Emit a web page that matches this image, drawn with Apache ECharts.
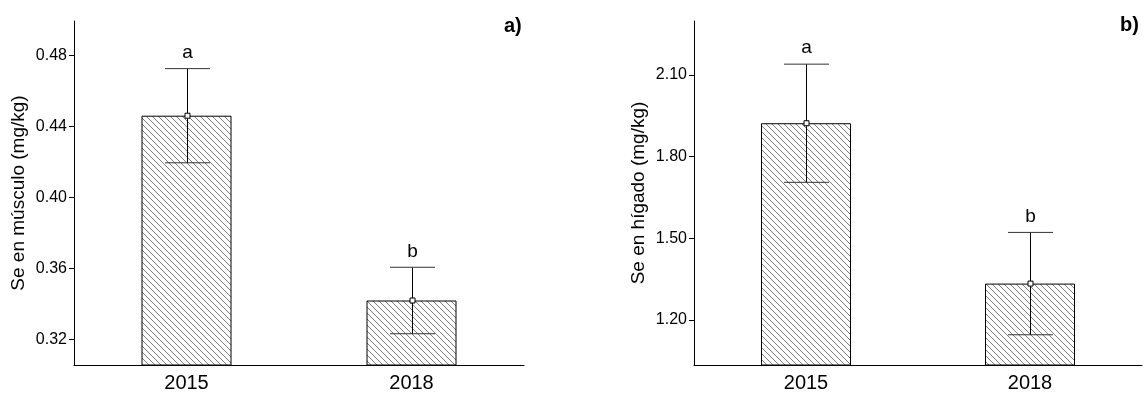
<!DOCTYPE html>
<html>
<head>
<meta charset="utf-8">
<script src="https://cdn.jsdelivr.net/npm/echarts@6/dist/echarts.min.js"></script>
<style>
html,body{margin:0;padding:0;background:#fff;}
#chart{width:1145px;height:394px;}
</style>
</head>
<body>
<div id="chart"></div>
<script>
// ---- data ----
const categories = ['2015', '2018'];
const muscleMean = [0.446, 0.342];
const muscleErr = [0.0265, 0.0187];
const liverMean = [1.923, 1.334];
const liverErr = [0.217, 0.188];
const groupLetters = ['a', 'b'];
const muscleTicks = [0.32, 0.36, 0.40, 0.44, 0.48];
const liverTicks = [1.20, 1.50, 1.80, 2.10];
const panelLabels = ['a)', 'b)'];
const yNames = ['Se en músculo (mg/kg)', 'Se en hígado (mg/kg)'];

// ---- hatch pattern ----
function makeHatch() {
  const n = 6;
  const c = document.createElement('canvas');
  c.width = n; c.height = n;
  const ctx = c.getContext('2d');
  ctx.fillStyle = '#ffffff';
  ctx.fillRect(0, 0, n, n);
  ctx.strokeStyle = '#7d7d7d';
  ctx.lineWidth = 1;
  ctx.beginPath();
  ctx.moveTo(0, 0); ctx.lineTo(n, n);
  ctx.moveTo(-1, n - 1); ctx.lineTo(1, n + 1);
  ctx.moveTo(n - 1, -1); ctx.lineTo(n + 1, 1);
  ctx.stroke();
  return c;
}
const hatch = makeHatch();

const FONT = 'Liberation Sans, Arial, sans-serif';

function errRender(params, api) {
  const idx = api.value(0);
  const mean = api.value(1);
  const err = api.value(2);
  const letter = groupLetters[params.dataIndex];
  const c = api.coord([idx, mean]);
  const t = api.coord([idx, mean + err]);
  const b = api.coord([idx, mean - err]);
  const x = Math.round(c[0]) + 0.5;
  const hw = 22.5;
  const st = { stroke: '#000', lineWidth: 1 };
  const capSt = { stroke: '#333', lineWidth: 1 };
  return {
    type: 'group',
    children: [
      { type: 'line', shape: { x1: x, y1: t[1], x2: x, y2: b[1] }, style: st },
      { type: 'line', shape: { x1: x - hw, y1: t[1], x2: x + hw, y2: t[1] }, style: capSt },
      { type: 'line', shape: { x1: x - hw, y1: b[1], x2: x + hw, y2: b[1] }, style: capSt },
      { type: 'rect', shape: { x: x - 2.5, y: c[1] - 2.5, width: 5, height: 5 }, style: { fill: '#fff', stroke: '#000', lineWidth: 1 } },
      { type: 'text', x: x, y: t[1] - 16, style: { text: letter, textAlign: 'center', textVerticalAlign: 'middle', font: '19px ' + FONT, fill: '#000' } }
    ]
  };
}

function yAxis(gridIndex, min, max, ticks, name) {
  return {
    type: 'value', gridIndex: gridIndex, min: min, max: max,
    name: name, nameLocation: 'middle', nameGap: 46, nameRotate: 90,
    nameTextStyle: { fontSize: 19, fontFamily: FONT, color: '#000' },
    axisLine: { show: true, lineStyle: { color: '#000', width: 1 } },
    axisTick: { show: true, length: 5, customValues: ticks, lineStyle: { color: '#000' } },
    axisLabel: { customValues: ticks, fontSize: 16, fontFamily: FONT, color: '#000', margin: 7,
      formatter: v => v.toFixed(2) },
    splitLine: { show: false }
  };
}
function xAxis(gridIndex) {
  return {
    type: 'category', gridIndex: gridIndex, data: categories, boundaryGap: true,
    axisLine: { show: true, lineStyle: { color: '#000', width: 1 } },
    axisTick: { show: false },
    axisLabel: { fontSize: 20, fontFamily: FONT, color: '#000', margin: 8 }
  };
}

const chart = echarts.init(document.getElementById('chart'), null, { renderer: 'canvas' });
chart.setOption({
  animation: false,
  backgroundColor: '#fff',
  title: [
    { text: panelLabels[0], left: 499, top: 11, textStyle: { fontSize: 20, fontWeight: 'bold', fontFamily: FONT, color: '#000' } },
    { text: panelLabels[1], left: 1115, top: 10, textStyle: { fontSize: 20, fontWeight: 'bold', fontFamily: FONT, color: '#000' } }
  ],
  grid: [
    { left: 74, right: 621, top: 21, bottom: 29 },
    { left: 694, right: 3, top: 21, bottom: 29 }
  ],
  xAxis: [xAxis(0), xAxis(1)],
  yAxis: [
    yAxis(0, 0.3057, 0.4993, muscleTicks, yNames[0]),
    yAxis(1, 1.035, 2.2985, liverTicks, yNames[1])
  ],
  series: [
    { type: 'bar', xAxisIndex: 0, yAxisIndex: 0, data: muscleMean, barWidth: 90,
      itemStyle: { color: { image: hatch, repeat: 'repeat' }, borderColor: '#000', borderWidth: 1 } },
    { type: 'bar', xAxisIndex: 1, yAxisIndex: 1, data: liverMean, barWidth: 90,
      itemStyle: { color: { image: hatch, repeat: 'repeat' }, borderColor: '#000', borderWidth: 1 } },
    { type: 'custom', xAxisIndex: 0, yAxisIndex: 0, z: 5, renderItem: errRender,
      data: categories.map((c, i) => [i, muscleMean[i], muscleErr[i]]) },
    { type: 'custom', xAxisIndex: 1, yAxisIndex: 1, z: 5, renderItem: errRender,
      data: categories.map((c, i) => [i, liverMean[i], liverErr[i]]) }
  ]
});
</script>
</body>
</html>
